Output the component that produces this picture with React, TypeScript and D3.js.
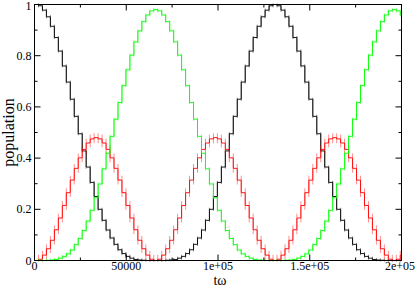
import React from "react";
import * as d3 from "d3";

// Step index k: each plateau starts at k * stepWidth (tω units)
const stepWidth = 130000 / 60;

const blackSeries = [
  1.000, 0.995, 0.978, 0.952, 0.915, 0.871, 0.818, 0.760, 0.697, 0.630, 0.563, 0.495, 0.428, 0.365, 0.305, 0.250,
  0.200, 0.157, 0.119, 0.088, 0.063, 0.042, 0.027, 0.016, 0.009, 0.004, 0.002, 0.001, 0.000, 0.000, 0.000,
  0.000, 0.000, 0.001, 0.002, 0.004, 0.009, 0.016, 0.027, 0.042, 0.063, 0.088, 0.119, 0.157, 0.200, 0.250,
  0.305, 0.365, 0.428, 0.495, 0.563, 0.630, 0.697, 0.760, 0.818, 0.871, 0.915, 0.952, 0.978, 0.995, 1.000,
  0.995, 0.978, 0.952, 0.915, 0.871, 0.818, 0.760, 0.697, 0.630, 0.563, 0.495, 0.428, 0.365, 0.305, 0.250,
  0.200, 0.157, 0.119, 0.088, 0.063, 0.042, 0.027, 0.016, 0.009, 0.004, 0.002, 0.001, 0.000, 0.000, 0.000,
  0.000, 0.000,
];

const greenSeries = [
  0.000, 0.000, 0.000, 0.001, 0.002, 0.004, 0.009, 0.016, 0.026, 0.041, 0.062, 0.086, 0.117, 0.154, 0.196, 0.245,
  0.299, 0.358, 0.419, 0.485, 0.552, 0.617, 0.683, 0.745, 0.802, 0.854, 0.897, 0.933, 0.959, 0.975, 0.980,
  0.975, 0.959, 0.933, 0.897, 0.854, 0.802, 0.745, 0.683, 0.617, 0.552, 0.485, 0.419, 0.358, 0.299, 0.245,
  0.196, 0.154, 0.117, 0.086, 0.062, 0.041, 0.026, 0.016, 0.009, 0.004, 0.002, 0.001, 0.000, 0.000, 0.000,
  0.000, 0.000, 0.001, 0.002, 0.004, 0.009, 0.016, 0.026, 0.041, 0.062, 0.086, 0.117, 0.154, 0.196, 0.245,
  0.299, 0.358, 0.419, 0.485, 0.552, 0.617, 0.683, 0.745, 0.802, 0.854, 0.897, 0.933, 0.959, 0.975, 0.980,
  0.975, 0.959,
];

const redSeries = [
  0.000, 0.005, 0.021, 0.046, 0.079, 0.120, 0.166, 0.215, 0.265, 0.314, 0.360, 0.401, 0.434, 0.459, 0.475,
  0.480, 0.475, 0.459, 0.434, 0.401, 0.360, 0.314, 0.265, 0.215, 0.166, 0.120, 0.079, 0.046, 0.021, 0.005,
  0.000, 0.005, 0.021, 0.046, 0.079, 0.120, 0.166, 0.215, 0.265, 0.314, 0.360, 0.401, 0.434, 0.459, 0.475,
  0.480, 0.475, 0.459, 0.434, 0.401, 0.360, 0.314, 0.265, 0.215, 0.166, 0.120, 0.079, 0.046, 0.021, 0.005,
  0.000, 0.005, 0.021, 0.046, 0.079, 0.120, 0.166, 0.215, 0.265, 0.314, 0.360, 0.401, 0.434, 0.459, 0.475,
  0.480, 0.475, 0.459, 0.434, 0.401, 0.360, 0.314, 0.265, 0.215, 0.166, 0.120, 0.079, 0.046, 0.021, 0.005,
  0.000, 0.005, 0.021,
];

// overshoot of each transition (population units)
const swings = { black: 0.006, red: 0.017, green: 0.006 };

const xMajorTicks = [0, 50000, 100000, 150000, 200000];
const xTickLabels = ["0", "50000", "1e+05", "1.5e+05", "2e+05"];
const xMinorTicks = [25000, 75000, 125000, 175000];
const yMajorTicks = [0, 0.2, 0.4, 0.6, 0.8, 1];
const yTickLabels = ["0", "0.2", "0.4", "0.6", "0.8", "1"];
const yMinorTicks = [0.1, 0.3, 0.5, 0.7, 0.9];

const W = 415;
const H = 288;
const L = 34.5;
const R = 401.5;
const T = 4.5;
const B = 260.5;
const FONT = "'Liberation Serif', 'DejaVu Serif', serif";

export default function App() {
  const x = d3.scaleLinear().domain([0, 200000]).range([L, R]);
  const y = d3.scaleLinear().domain([0, 1]).range([B, T]);

  const stepPath = (vals: number[]) => {
    const pts: [number, number][] = vals.map((v, k) => [k * stepWidth, v]);
    pts.push([200000, vals[vals.length - 1]]);
    return d3
      .line<[number, number]>()
      .x((d) => x(d[0]))
      .y((d) => y(d[1]))
      .curve(d3.curveStepAfter)(pts) as string;
  };

  const swingSegs = (vals: number[], d: number) =>
    vals.slice(1).map((v, i) => {
      const prev = vals[i];
      const k = i + 1;
      return {
        x: x(k * stepWidth),
        y1: y(Math.min(prev, v) - d),
        y2: y(Math.max(prev, v) + d),
      };
    });

  const series = [
    { vals: blackSeries, color: "#000000", swing: swings.black, op: 0.5 },
    { vals: redSeries, color: "#ff0000", swing: swings.red, op: 0.45 },
    { vals: greenSeries, color: "#00ff00", swing: swings.green, op: 0.5 },
  ];

  return (
    <svg
      width={W}
      height={H}
      style={{ position: "absolute", left: 0, top: 0, background: "#fff" }}
    >
      <defs>
        <clipPath id="plotclip">
          <rect x={L} y={T - 1} width={R - L} height={B - T + 2} />
        </clipPath>
      </defs>
      <rect x={0} y={0} width={W} height={H} fill="#fff" />
      <g clipPath="url(#plotclip)">
        {series.map((s, i) => (
          <g key={i}>
            {swingSegs(s.vals, s.swing).map((sg, j) => (
              <line
                key={j}
                x1={sg.x}
                x2={sg.x}
                y1={sg.y1}
                y2={sg.y2}
                stroke={s.color}
                strokeOpacity={s.op}
                strokeWidth={1}
              />
            ))}
            <path d={stepPath(s.vals)} fill="none" stroke={s.color} strokeWidth={0.9} />
          </g>
        ))}
      </g>
      {/* frame */}
      <rect x={L} y={T} width={R - L} height={B - T} fill="none" stroke="#000" strokeWidth={1} />
      {/* x ticks */}
      {xMajorTicks.map((t, i) => (
        <g key={"xm" + i}>
          <line x1={x(t)} x2={x(t)} y1={B} y2={B - 6} stroke="#000" />
          <line x1={x(t)} x2={x(t)} y1={T} y2={T + 6} stroke="#000" />
          <text
            x={Math.min(x(t), 414 - 14)}
            y={270}
            textAnchor="middle"
            fontFamily={FONT}
            fontSize={12}
            fill="#000"
          >
            {xTickLabels[i]}
          </text>
        </g>
      ))}
      {xMinorTicks.map((t, i) => (
        <g key={"xn" + i}>
          <line x1={x(t)} x2={x(t)} y1={B} y2={B - 3} stroke="#000" />
          <line x1={x(t)} x2={x(t)} y1={T} y2={T + 3} stroke="#000" />
        </g>
      ))}
      {/* y ticks */}
      {yMajorTicks.map((t, i) => (
        <g key={"ym" + i}>
          <line x1={L} x2={L + 6} y1={y(t)} y2={y(t)} stroke="#000" />
          <line x1={R} x2={R - 6} y1={y(t)} y2={y(t)} stroke="#000" />
          <text
            x={L - 3}
            y={Math.max(y(t) + 4, 9.5)}
            textAnchor="end"
            fontFamily={FONT}
            fontSize={12}
            fill="#000"
          >
            {yTickLabels[i]}
          </text>
        </g>
      ))}
      {yMinorTicks.map((t, i) => (
        <g key={"yn" + i}>
          <line x1={L} x2={L + 3} y1={y(t)} y2={y(t)} stroke="#000" />
          <line x1={R} x2={R - 3} y1={y(t)} y2={y(t)} stroke="#000" />
        </g>
      ))}
      <text
        x={220}
        y={284.8}
        textAnchor="middle"
        fontFamily={FONT}
        fontSize={14}
        fill="#000"
      >
        tω
      </text>
      <text
        transform={`translate(14, ${(T + B) / 2}) rotate(-90)`}
        textAnchor="middle"
        fontFamily={FONT}
        fontSize={16}
        fill="#000"
      >
        population
      </text>
    </svg>
  );
}
